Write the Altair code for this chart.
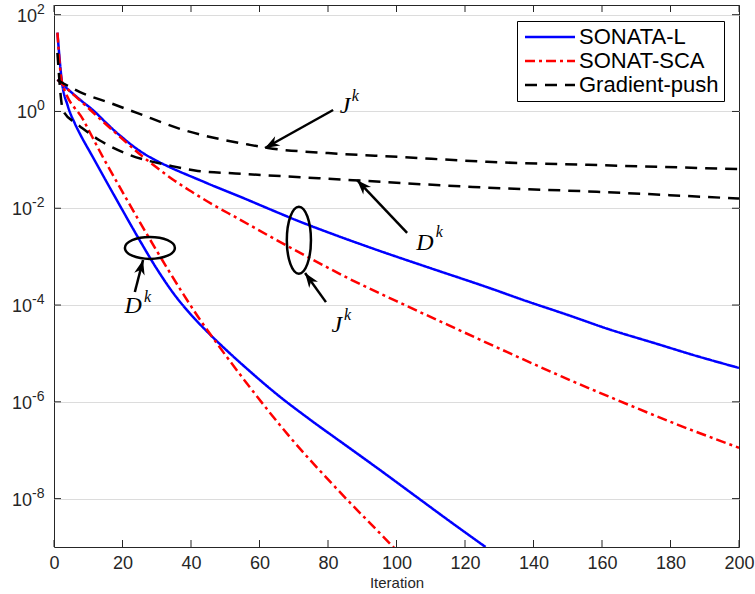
import math
import altair as alt
import pandas as pd

# ---------------- data ----------------
methods = ["SONATA-L", "SONAT-SCA", "Gradient-push"]
colors = ["#0000ff", "#ff0000", "#000000"]
dashes = [[1, 0], [10, 4, 3, 4], [12, 8]]

# values are given as log10 of the plotted quantity
sonata_J_it = [1, 2.5, 5, 8, 11.5, 15, 18, 20, 23, 26, 30, 35, 42.6, 48, 54.3, 62, 71.2, 82, 93, 110,
               126.4, 138, 149.8, 162, 175, 187, 200]
sonata_J_log = [0.66, 0.56, 0.40, 0.22, 0.02, -0.22, -0.42, -0.54, -0.71, -0.86, -1.02, -1.19, -1.42,
                -1.58, -1.76, -1.99, -2.26, -2.55, -2.83, -3.24, -3.63, -3.92, -4.20, -4.50, -4.78,
                -5.04, -5.30]

sonata_D_it = [1, 2.3, 4, 6.1, 8, 11, 15, 20, 25, 30, 35, 40, 45, 50, 57.2, 65, 75, 85, 95, 105, 115, 126]
sonata_D_log = [1.63, 0.62, 0.12, -0.25, -0.52, -0.90, -1.41, -2.04, -2.66, -3.25, -3.77, -4.20, -4.57,
                -4.91, -5.37, -5.84, -6.38, -6.89, -7.40, -7.92, -8.44, -9.0]

sca_J_it = [1, 2.6, 8.5, 14, 20, 25, 30, 35, 40, 46, 53.4, 63, 73.9, 86, 100, 115, 131, 148, 165, 182, 200]
sca_J_log = [0.66, 0.55, 0.17, -0.19, -0.57, -0.88, -1.16, -1.42, -1.65, -1.91, -2.20, -2.58, -3.00,
             -3.45, -3.92, -4.41, -4.93, -5.47, -5.98, -6.47, -6.95]

sca_D_it = [1, 2.3, 8.6, 14.4, 19, 24.6, 30, 37.7, 42.6, 46.1, 57.2, 68.9, 82.6, 98.1, 100]
sca_D_log = [1.63, 0.62, -0.18, -0.96, -1.54, -2.23, -2.88, -3.77, -4.30, -4.65, -5.70, -6.73, -7.80,
             -8.93, -9.07]

gp_J_it = [1, 7.6, 16.4, 24.2, 37.7, 57.2, 62.5, 80, 101, 126.4, 159.4, 200]
gp_J_log = [0.65, 0.40, 0.175, -0.03, -0.38, -0.69, -0.755, -0.86, -0.94, -1.04, -1.11, -1.19]

gp_D_it = [1, 2.6, 6.1, 7.6, 13.4, 20.4, 34.5, 42, 53, 87.3, 122.3, 158.5, 200]
gp_D_log = [1.21, 0.03, -0.23, -0.31, -0.60, -0.85, -1.13, -1.23, -1.28, -1.42, -1.56, -1.66, -1.80]

x_ticks = [0, 20, 40, 60, 80, 100, 120, 140, 160, 180, 200]
y_tick_exps = [-8, -6, -4, -2, 0, 2]

# annotations (data coordinates: iteration, log10 value)
ann_letter_txt = ["J", "D", "J", "D"]
ann_letter_it = [85.0, 108.3, 82.6, 23.1]
ann_letter_log = [0.11, -2.72, -4.41, -4.02]
ann_sup_it = [88.0, 112.5, 85.7, 27.3]
ann_sup_log = [0.32, -2.49, -4.20, -3.84]
arrow_tail_it = [81.5, 103.1, 79.4, 23.6]
arrow_tail_log = [0.03, -2.51, -3.94, -3.73]
arrow_tip_it = [61.6, 88.5, 73.3, 26.0]
arrow_tip_log = [-0.755, -1.42, -3.34, -3.07]
ellipse_it = [71.5, 28.0]
ellipse_log = [-2.66, -2.82]

# ---------------- layout ----------------
W, H = 685, 542
LOG_LO, LOG_HI = -9.0, 2.2
YMIN, YMAX = 10 ** LOG_LO, 10 ** LOG_HI
AX = "#262626"
SANS = "Liberation Sans"

rows = []
for m, key, its, lgs in [
    ("SONATA-L", "J", sonata_J_it, sonata_J_log),
    ("SONATA-L", "D", sonata_D_it, sonata_D_log),
    ("SONAT-SCA", "J", sca_J_it, sca_J_log),
    ("SONAT-SCA", "D", sca_D_it, sca_D_log),
    ("Gradient-push", "J", gp_J_it, gp_J_log),
    ("Gradient-push", "D", gp_D_it, gp_D_log),
]:
    for it, lg in zip(its, lgs):
        rows.append({"method": m, "curve": m + "-" + key, "iter": it, "value": 10 ** lg})
df = pd.DataFrame(rows)

X = alt.X("iter:Q", scale=alt.Scale(domain=[0, 200], nice=False, zero=False),
          axis=alt.Axis(values=x_ticks, title="Iteration", grid=False, ticks=False, tickSize=0,
                        domain=False, labelFontSize=18, labelFont=SANS, labelColor=AX,
                        labelPadding=7, titleFontSize=15, titleFont=SANS, titleColor=AX,
                        titleFontWeight="normal", titlePadding=3, labelFlush=False))
Y = alt.Y("value:Q", scale=alt.Scale(type="log", domain=[YMIN, YMAX], nice=False),
          axis=alt.Axis(values=[10.0 ** e for e in y_tick_exps], title=None, labels=False,
                        ticks=False, domain=False, grid=True, gridColor="#dcdcdc", gridWidth=1))

legend = alt.Legend(orient="none", legendX=463, legendY=16, title=None,
                    symbolType="M-5,0L5,0", symbolSize=100, symbolStrokeWidth=2.5,
                    labelFontSize=22, labelFont=SANS, labelColor="black",
                    strokeColor="black", fillColor="white", padding=5, rowPadding=2,
                    symbolOffset=17, labelOffset=18)
color = alt.Color("method:N", scale=alt.Scale(domain=methods, range=colors), legend=legend)
dash = alt.StrokeDash("method:N", scale=alt.Scale(domain=methods, range=dashes), legend=legend)

layers = []
for m in methods:
    layers.append(
        alt.Chart(df).transform_filter(alt.datum.method == m)
        .mark_line(strokeWidth=2.5, clip=True, interpolate="monotone")
        .encode(x=X, y=Y, color=color, strokeDash=dash, detail="curve:N")
    )

# inward ticks on all four sides
xt = pd.DataFrame({"iter": x_ticks})
yt = pd.DataFrame({"value": [10.0 ** e for e in y_tick_exps]})
layers.append(alt.Chart(xt).mark_rule(color=AX, strokeWidth=1).encode(x=X, y=alt.value(H), y2=alt.value(H - 7)))
layers.append(alt.Chart(xt).mark_rule(color=AX, strokeWidth=1).encode(x=X, y=alt.value(0), y2=alt.value(7)))
layers.append(alt.Chart(yt).mark_rule(color=AX, strokeWidth=1).encode(y=Y, x=alt.value(0), x2=alt.value(7)))
layers.append(alt.Chart(yt).mark_rule(color=AX, strokeWidth=1).encode(y=Y, x=alt.value(W), x2=alt.value(W - 7)))

# y tick labels 10^e
ylab = pd.DataFrame({
    "value": [10.0 ** e for e in y_tick_exps],
    "base": ["10"] * len(y_tick_exps),
    "exp": [str(e) for e in y_tick_exps],
    "neg": [e < 0 for e in y_tick_exps],
})
for neg, xoff in [(False, -17), (True, -22)]:
    sub = ylab[ylab["neg"] == neg]
    layers.append(alt.Chart(sub).mark_text(align="right", baseline="middle", dy=2, fontSize=18,
                                           font=SANS, color=AX)
                  .encode(y=Y, x=alt.value(xoff), text="base:N"))
    layers.append(alt.Chart(sub).mark_text(align="left", baseline="middle", dy=-5, fontSize=14,
                                           font=SANS, color=AX)
                  .encode(y=Y, x=alt.value(xoff), text="exp:N"))

# annotations
def to_px(it, lg):
    return it / 200.0 * W, (LOG_HI - lg) / (LOG_HI - LOG_LO) * H

angles = []
for a, b, c, d in zip(arrow_tail_it, arrow_tail_log, arrow_tip_it, arrow_tip_log):
    x0, y0 = to_px(a, b)
    x1, y1 = to_px(c, d)
    angles.append(math.degrees(math.atan2(x1 - x0, -(y1 - y0))) % 360)

arr = pd.DataFrame({"iter": arrow_tail_it, "value": [10 ** v for v in arrow_tail_log],
                    "iter2": arrow_tip_it, "value2": [10 ** v for v in arrow_tip_log]})
heads = pd.DataFrame({"iter": arrow_tip_it, "value": [10 ** v for v in arrow_tip_log], "ang": angles})
layers.append(alt.Chart(arr).mark_rule(color="black", strokeWidth=2.5)
              .encode(x=X, y=Y, x2="iter2:Q", y2="value2:Q"))
layers.append(alt.Chart(heads).mark_point(filled=True, color="black", opacity=1, size=380,
                                          shape="M0,0L0.55,1.5L0,1.05L-0.55,1.5Z")
              .encode(x=X, y=Y, angle=alt.Angle("ang:Q", scale=None)))

ell = pd.DataFrame({"iter": ellipse_it, "value": [10 ** v for v in ellipse_log],
                    "shape": ["M0,-1A0.36,1,0,1,0,0,1A0.36,1,0,1,0,0,-1Z",
                              "M-1,0A1,0.44,0,1,0,1,0A1,0.44,0,1,0,-1,0Z"],
                    "sz": [67 ** 2, 50 ** 2]})
layers.append(alt.Chart(ell).mark_point(filled=False, color="black", strokeWidth=2.5, opacity=1)
              .encode(x=X, y=Y, shape=alt.Shape("shape:N", scale=None),
                      size=alt.Size("sz:Q", scale=None)))

letters = pd.DataFrame({"iter": ann_letter_it, "value": [10 ** v for v in ann_letter_log], "t": ann_letter_txt})
sups = pd.DataFrame({"iter": ann_sup_it, "value": [10 ** v for v in ann_sup_log], "t": ["k"] * len(ann_sup_it)})
layers.append(alt.Chart(letters).mark_text(font="Liberation Serif", fontStyle="italic", fontSize=24,
                                           align="center", baseline="middle", color="black")
              .encode(x=X, y=Y, text="t:N"))
layers.append(alt.Chart(sups).mark_text(font="Liberation Serif", fontStyle="italic", fontSize=16,
                                        align="center", baseline="middle", color="black")
              .encode(x=X, y=Y, text="t:N"))

chart = (
    alt.layer(*layers)
    .properties(width=W, height=H, autosize=alt.AutoSizeParams(type="none"),
                padding={"left": 54, "top": 5, "right": 16, "bottom": 47},
                background="white")
    .configure_view(stroke=AX, strokeWidth=1)
)

chart.save("out.html", embed_options={"renderer": "svg", "actions": False})
